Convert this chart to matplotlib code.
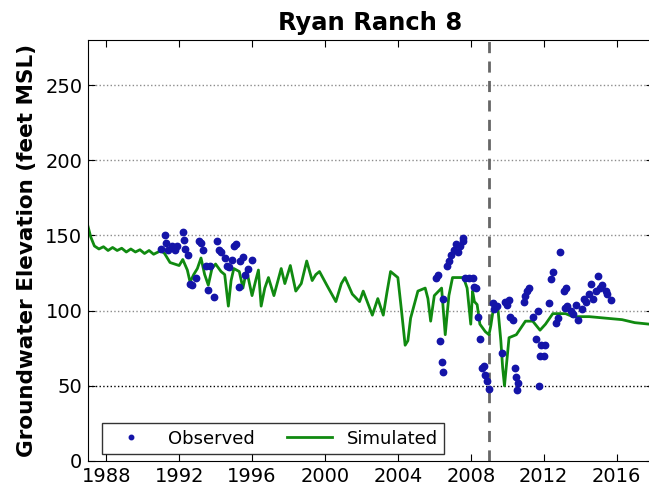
import numpy as np
import matplotlib
matplotlib.use('Agg')
import matplotlib.pyplot as plt

# simulated head, decimal year vs elevation (ft MSL)
sim_year = [1987.0, 1987.15, 1987.35, 1987.6, 1987.85, 1988.1, 1988.35, 1988.6, 1988.85, 1989.1,
            1989.35, 1989.6, 1989.85, 1990.1, 1990.35, 1990.6, 1990.85, 1991.0, 1991.2, 1991.5,
            1991.75, 1992.0, 1992.2, 1992.45, 1992.6, 1992.8, 1993.0, 1993.2, 1993.4, 1993.6,
            1993.8, 1994.0, 1994.3, 1994.5, 1994.7, 1994.85, 1995.0, 1995.3, 1995.5, 1995.7,
            1996.0, 1996.2, 1996.35, 1996.5, 1996.7, 1996.9, 1997.2, 1997.6, 1997.8, 1998.1,
            1998.4, 1998.7, 1999.0, 1999.3, 1999.5, 1999.7, 2000.1, 2000.6, 2000.9, 2001.1,
            2001.5, 2001.9, 2002.1, 2002.6, 2002.9, 2003.2, 2003.4, 2003.6, 2004.0, 2004.2,
            2004.4, 2004.55, 2004.7, 2005.1, 2005.5, 2005.65, 2005.8, 2006.0, 2006.4, 2006.6,
            2006.8, 2007.0, 2007.6, 2007.8, 2008.0, 2008.1, 2008.2, 2008.35, 2008.5, 2008.8,
            2009.0, 2009.1, 2009.3, 2009.5, 2009.65, 2009.75, 2009.85, 2010.1, 2010.5, 2011.0,
            2011.4, 2011.8, 2012.1, 2012.5, 2013.2, 2013.6, 2014.5, 2015.4, 2016.3, 2017.0,
            2017.8, 2018.0]
sim_elev = [156, 149, 143, 141, 142.5, 140, 142, 140, 141.5, 139,
            141, 139, 140.5, 138, 140, 137.5, 139, 140, 138, 132,
            131, 130, 134, 127, 119, 124, 128, 135, 124, 117,
            128, 131, 126, 124, 103, 120, 128, 126, 115, 127,
            110, 120, 127, 103, 115, 122, 110, 128, 118, 130,
            113, 118, 133, 120, 124, 126, 117, 106, 118, 122,
            111, 106, 113, 97, 108, 97, 112, 126, 122, 100,
            77, 80, 95, 113, 115, 108, 93, 110, 115, 84,
            110, 122, 122, 115, 91, 113, 106, 104, 91, 86,
            84, 90, 106, 100, 80, 62, 50, 82, 84, 93,
            93, 87, 91, 98, 98, 96, 96, 95, 94, 92,
            91, 91]

# observed water levels
obs_year = [1991.0, 1991.2, 1991.3, 1991.4, 1991.6, 1991.8, 1991.9, 1992.2, 1992.25, 1992.3,
            1992.5, 1992.6, 1992.7, 1992.9, 1993.1, 1993.2, 1993.3, 1993.45, 1993.6, 1993.7,
            1993.9, 1994.1, 1994.2, 1994.3, 1994.5, 1994.6, 1994.75, 1994.9, 1995.0, 1995.1,
            1995.3, 1995.35, 1995.5, 1995.6, 1995.8, 1996.0,
            2006.1, 2006.2, 2006.3, 2006.4, 2006.45, 2006.5, 2006.7, 2006.8, 2006.9, 2007.1,
            2007.2, 2007.3, 2007.4, 2007.55, 2007.6, 2007.7, 2007.9, 2008.1, 2008.2, 2008.3,
            2008.4, 2008.5, 2008.6, 2008.7, 2008.8, 2008.9, 2009.0,
            2009.2, 2009.3, 2009.45, 2009.7, 2009.9, 2010.0, 2010.1, 2010.15, 2010.3, 2010.4,
            2010.5, 2010.6, 2010.55, 2010.9, 2011.0, 2011.1, 2011.2, 2011.4, 2011.6, 2011.7,
            2011.8, 2011.85, 2011.75, 2012.0, 2012.1, 2012.3, 2012.4, 2012.5, 2012.7, 2012.8,
            2012.9, 2013.1, 2013.2, 2013.15, 2013.3, 2013.5, 2013.6, 2013.8, 2013.9, 2014.1,
            2014.2, 2014.3, 2014.5, 2014.6, 2014.7, 2014.85, 2015.0, 2015.1, 2015.2, 2015.4,
            2015.5, 2015.7]
obs_elev = [141, 150, 145, 140, 143, 140, 143, 152, 147, 141,
            137, 118, 117, 122, 146, 145, 140, 130, 114, 130,
            109, 146, 140, 139, 135, 130, 129, 134, 143, 144,
            116, 133, 136, 124, 128, 134,
            122, 124, 80, 66, 59, 108, 130, 133, 137, 140,
            144, 139, 143, 146, 148, 122, 122, 122, 116, 115,
            96, 81, 62, 63, 57, 53, 48,
            105, 101, 103, 72, 106, 104, 107, 96, 94, 62,
            56, 52, 47, 106, 110, 113, 115, 96, 81, 100,
            70, 77, 50, 70, 77, 105, 121, 126, 92, 95,
            139, 113, 115, 102, 103, 100, 98, 104, 94, 101,
            108, 106, 111, 118, 108, 113, 123, 115, 117, 113,
            111, 107]

calib_end = 2009.0
x_ticks = [1988, 1992, 1996, 2000, 2004, 2008, 2012, 2016]
y_ticks = [0, 50, 100, 150, 200, 250]

plt.rcParams['font.family'] = 'DejaVu Sans'
plt.rcParams['xtick.direction'] = 'in'
plt.rcParams['ytick.direction'] = 'in'
plt.rcParams['xtick.top'] = True
plt.rcParams['ytick.right'] = True
plt.rcParams['xtick.major.size'] = 5
plt.rcParams['ytick.major.size'] = 5
plt.rcParams['xtick.major.pad'] = 4
plt.rcParams['ytick.major.pad'] = 4

fig = plt.figure(figsize=(6.49, 4.87), dpi=100)
ax = fig.add_axes([0.1356, 0.0534, 0.8706, 0.8645])

ax.plot(obs_year, obs_elev, 'o', color='#1414a8', markersize=4.6, label='Observed', zorder=3)
ax.plot(sim_year, sim_elev, '-', color='#108a10', lw=2, label='Simulated', zorder=2)
ax.axvline(calib_end, color='0.4', ls='--', lw=2, dashes=(4, 3), zorder=1)

ax.set_xlim(1987, 2018)
ax.set_ylim(0, 280)
ax.set_xticks(x_ticks)
ax.set_xticklabels([str(t) for t in x_ticks], fontsize=14)
ax.set_yticks(y_ticks)
ax.set_yticklabels([str(t) for t in y_ticks], fontsize=14)

for v in y_ticks[2:]:
    ax.axhline(v, color='0.55', ls=':', lw=1, zorder=0)
ax.axhline(50, color='k', ls=':', lw=1, zorder=0)

ax.set_title('Ryan Ranch 8', fontsize=17.5, fontweight='bold', pad=7)
ax.set_ylabel('Groundwater Elevation (feet MSL)', fontsize=15.5, fontweight='bold', labelpad=6)

leg = ax.legend(loc='lower left', bbox_to_anchor=(0.025, 0.017), borderaxespad=0, ncol=2,
                numpoints=1, markerscale=0.7, fontsize=13, fancybox=False,
                edgecolor='k', columnspacing=1.8, handlelength=2.5, borderpad=0.35)
leg.get_frame().set_linewidth(1)

fig.savefig('out.png', dpi=100)
